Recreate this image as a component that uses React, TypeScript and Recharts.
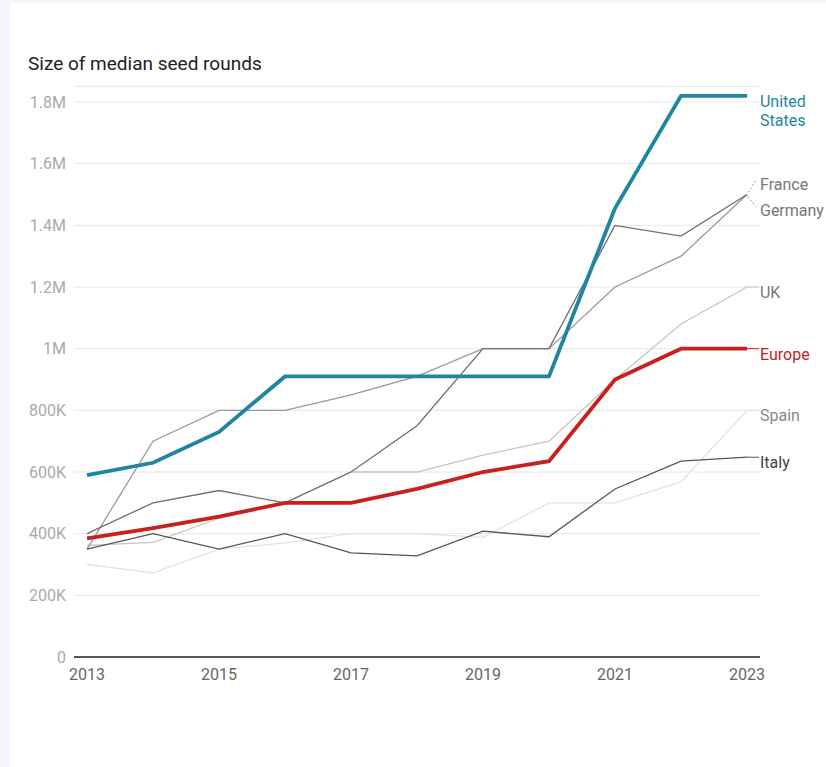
import React from 'react';
import { LineChart, Line, XAxis, YAxis, CartesianGrid } from 'recharts';

const years = [2013, 2014, 2015, 2016, 2017, 2018, 2019, 2020, 2021, 2022, 2023];
const unitedStates = [590000, 630000, 730000, 910000, 910000, 910000, 910000, 910000, 1455000, 1820000, 1820000];
const europe = [385000, 418000, 455000, 500000, 500000, 545000, 600000, 635000, 900000, 1000000, 1000000];
const france = [400000, 500000, 540000, 500000, 600000, 750000, 1000000, 1000000, 1400000, 1365000, 1500000];
const germany = [350000, 700000, 800000, 800000, 850000, 910000, 1000000, 1000000, 1200000, 1300000, 1500000];
const uk = [362000, 372000, 450000, 500000, 600000, 600000, 655000, 700000, 900000, 1080000, 1200000];
const spain = [300000, 273000, 350000, 370000, 400000, 400000, 388000, 500000, 500000, 568000, 800000];
const italy = [350000, 400000, 350000, 400000, 338000, 328000, 408000, 390000, 545000, 635000, 648000];

const xTicks = [2013, 2015, 2017, 2019, 2021, 2023];
const yTicks = [0, 200000, 400000, 600000, 800000, 1000000, 1200000, 1400000, 1600000, 1800000];

const data = years.map((year, i) => ({
  year,
  unitedStates: unitedStates[i],
  europe: europe[i],
  france: france[i],
  germany: germany[i],
  uk: uk[i],
  spain: spain[i],
  italy: italy[i],
}));

const FONT = 'Roboto, "Noto Sans", sans-serif';
const LAST = years.length - 1;

function formatValue(v: number) {
  if (v === 0) return '0';
  if (v >= 1000000) return `${v / 1000000}M`;
  return `${v / 1000}K`;
}

// end-of-line label: short connector then the series name
function endLabel(lines: string[], color: string, connector: string | null, textDy = 5) {
  return (props: any) => {
    const { x, y, index } = props;
    if (index !== LAST) return null;
    return (
      <g>
        {connector && <line x1={x} y1={y} x2={x + 12} y2={y} stroke={connector} strokeWidth={1} />}
        <text x={x + 13} y={y + textDy} fill={color} fontSize={16} fontFamily={FONT} dominantBaseline="central">
          {lines.map((l, i) => (
            <tspan key={l} x={x + 13} dy={i === 0 ? 0 : 19}>
              {l}
            </tspan>
          ))}
        </text>
      </g>
    );
  };
}

function splitLabel(name: string, up: boolean) {
  return (props: any) => {
    const { x, y, index } = props;
    if (index !== LAST) return null;
    const ty = up ? y - 10 : y + 16;
    return (
      <g>
        <line x1={x + 1} y1={y + (up ? -2 : 2)} x2={x + 9} y2={up ? y - 14 : y + 12} stroke="#999" strokeWidth={1} strokeDasharray="2 2" />
        <text x={x + 13} y={ty} fill="#777" fontSize={16} fontFamily={FONT} dominantBaseline="central">
          {name}
        </text>
      </g>
    );
  };
}

export default function App() {
  return (
    <div style={{ position: 'fixed', left: 0, top: 0, width: 826, height: 767, background: '#f4f6fb' }}>
      <div style={{ position: 'absolute', left: 10, top: 3, width: 816, height: 764, background: '#fff' }} />
      <div
        style={{
          position: 'absolute',
          left: 28,
          top: 53,
          fontFamily: FONT,
          fontSize: 19,
          lineHeight: '22px',
          color: '#222',
        }}
      >
        Size of median seed rounds
      </div>
      <div style={{ position: 'absolute', left: 0, top: 0 }}>
        <LineChart width={826} height={767} data={data} margin={{ top: 86.6, right: 66, bottom: 80, left: 14 }}>
          <CartesianGrid vertical={false} stroke="#e6e6e6" />
          <XAxis
            dataKey="year"
            type="number"
            domain={[2012.803, 2023.197]}
            ticks={xTicks}
            tickLine={false}
            axisLine={{ stroke: '#222', strokeWidth: 1.5 }}
            tick={{ fill: '#666', fontSize: 16, fontFamily: FONT }}
            tickMargin={6}
            height={30}
          />
          <YAxis
            domain={[0, 1850000]}
            ticks={yTicks}
            tickFormatter={formatValue}
            tickLine={false}
            axisLine={false}
            tick={{ fill: '#aaa', fontSize: 16, fontFamily: FONT }}
            width={60}
          />
          <Line dataKey="spain" stroke="#e2e2e2" strokeWidth={1.3} dot={false} isAnimationActive={false} label={endLabel(['Spain'], '#888', '#e2e2e2')} />
          <Line dataKey="uk" stroke="#c4c4c4" strokeWidth={1.3} dot={false} isAnimationActive={false} label={endLabel(['UK'], '#777', '#c4c4c4')} />
          <Line dataKey="germany" stroke="#999" strokeWidth={1.3} dot={false} isAnimationActive={false} label={splitLabel('Germany', false)} />
          <Line dataKey="france" stroke="#6e6e6e" strokeWidth={1.3} dot={false} isAnimationActive={false} label={splitLabel('France', true)} />
          <Line dataKey="italy" stroke="#555" strokeWidth={1.3} dot={false} isAnimationActive={false} label={endLabel(['Italy'], '#444', '#555')} />
          <Line dataKey="europe" stroke="#c8201f" strokeWidth={3.8} dot={false} isAnimationActive={false} label={endLabel(['Europe'], '#c8201f', '#c8201f')} />
          <Line dataKey="unitedStates" stroke="#1f86a1" strokeWidth={3.8} dot={false} isAnimationActive={false} label={endLabel(['United', 'States'], '#1f86a1', null)} />
        </LineChart>
      </div>
    </div>
  );
}
